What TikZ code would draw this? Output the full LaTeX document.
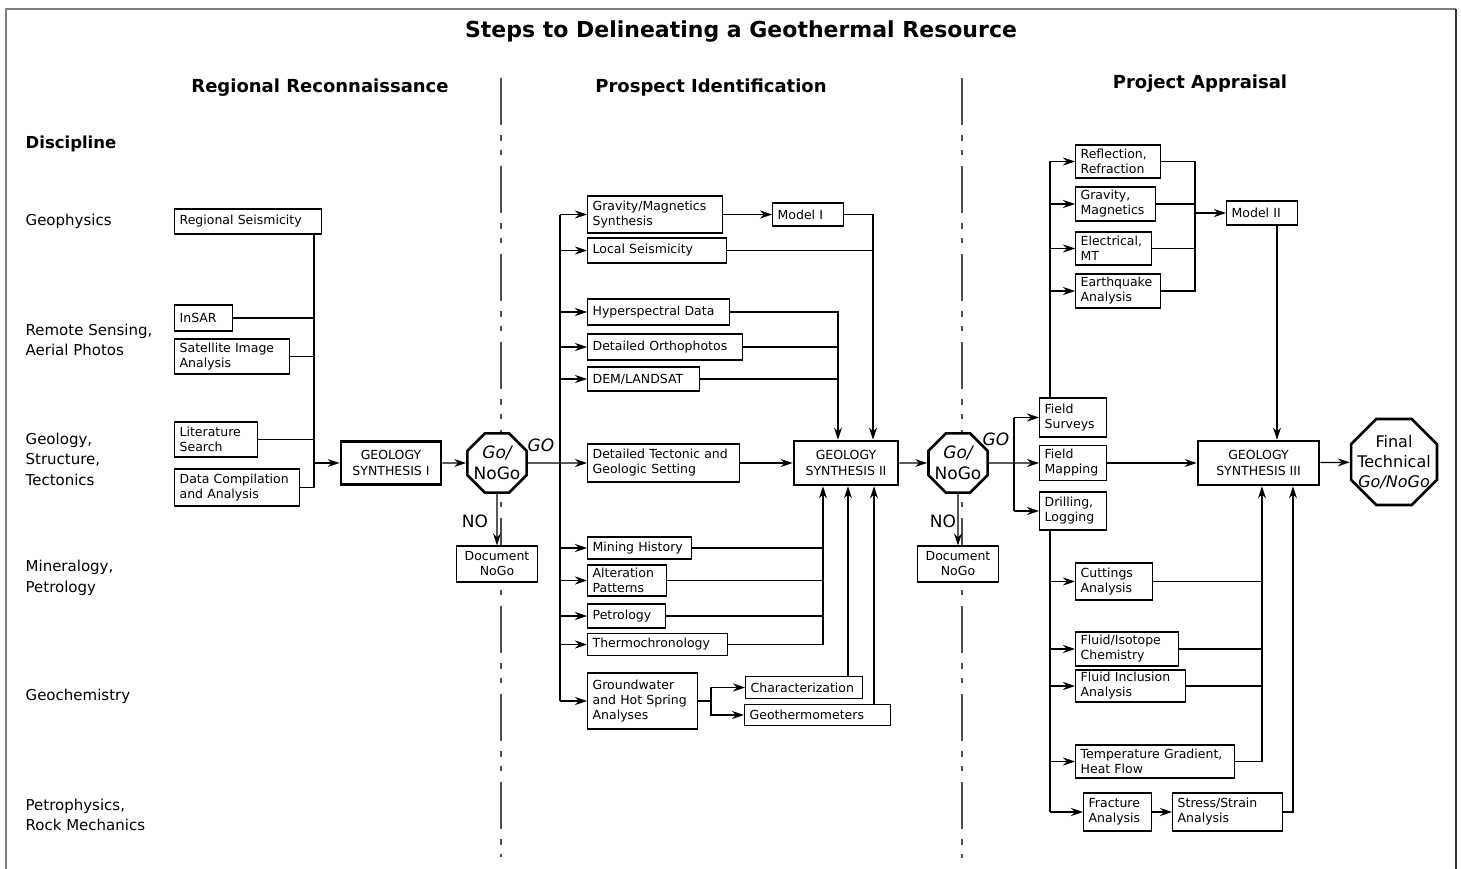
\documentclass[tikz,border=0pt]{standalone}
\usepackage{fontspec}
\setmainfont{DejaVu Sans}
\usetikzlibrary{arrows.meta, shapes.geometric}

\tikzset{
  box/.style={draw, fill=white, line width=1.3pt, inner xsep=5pt, inner ysep=2pt,
    align=left, anchor=west, font=\fontsize{12.5}{15}\selectfont},
  bx/.style 2 args={box, text width={#1-10pt}, minimum height=#2},
  synth/.style={draw, fill=white, line width=2.8pt, align=center,
    font=\fontsize{12.5}{16.5}\selectfont},
  stopsign/.style={draw, fill=white, regular polygon, regular polygon sides=8,
    inner sep=-14pt, line width=2.6pt, align=center},
  arr/.style={-{Stealth[length=12pt,width=8pt,inset=4pt]}, line width=1.3pt},
  divider/.style={black!70, line width=1.3pt,
    dash pattern=on 47pt off 10pt on 6pt off 9pt on 5pt off 11pt},
  disc/.style={anchor=west, align=left, inner sep=0pt, font=\fontsize{15}{20.5}\selectfont},
  head/.style={font=\bfseries\fontsize{18}{21}\selectfont},
  tag/.style={font=\fontsize{17}{19}\selectfont},
}

\begin{document}
\begin{tikzpicture}[x=1pt, y=-1pt, line width=1.3pt]
\useasboundingbox (0,0) rectangle (1461,869);

% frame
\draw[gray, line width=1.5pt] (6,869) -- (6,9) -- (1456,9);
\draw[black!80, line width=1.5pt] (1456,9) -- (1456,869);

% phase dividers
\draw[divider] (501,78) -- (501,857);
\draw[divider] (962,78) -- (962,858);

% titles
\node[font=\bfseries\fontsize{22}{26}\selectfont] (title) at (741,32) {Steps to Delineating a Geothermal Resource};
\node[head] (h1) at (320,88) {Regional Reconnaissance};
\node[head] (h2) at (711,88) {Prospect Identification};
\node[head] (h3) at (1200,84) {Project Appraisal};

% disciplines
\node[disc, font=\bfseries\fontsize{16.5}{20}\selectfont] (dhead) at (25,144) {Discipline};
\node[disc] (d1) at (25,221) {Geophysics};
\node[disc] (d2) at (25,340) {Remote Sensing,\\Aerial Photos};
\node[disc] (d3) at (25,459) {Geology,\\Structure,\\Tectonics};
\node[disc] (d4) at (25,578) {Mineralogy,\\Petrology};
\node[disc] (d5) at (25,696) {Geochemistry};
\node[disc] (d6) at (25,815) {Petrophysics,\\Rock Mechanics};

% Regional reconnaissance
\node[bx={147}{25}] (rs) at (174,221.5) {Regional Seismicity};
\node[bx={58}{26}] (insar) at (174,318) {InSAR};
\node[bx={115}{35}] (sat) at (174,356.5) {Satellite Image\\Analysis};
\node[bx={83}{35}] (lit) at (174,439.5) {Literature\\Search};
\node[bx={125}{37}] (dca) at (174,487.5) {Data Compilation\\and Analysis};
\node[synth, minimum width=100, minimum height=43] (gs1) at (391,463) {GEOLOGY\\SYNTHESIS I};
\node[stopsign, minimum size=64, font=\fontsize{17}{21}\selectfont] (go1) at (497,463) {\itshape Go/\\NoGo};
\node[box, anchor=center, align=center, minimum width=81, minimum height=36] (dng1) at (497,564) {Document\\NoGo};
\node[tag, font=\itshape\fontsize{17}{19}\selectfont] (golab1) at (541,445) {GO};
\node[tag] (nolab1) at (475,521) {NO};

\coordinate (bus1) at (314,463);
\draw (rs.south -| bus1) -- (bus1 |- dca);
\draw (insar) -- (insar -| bus1);
\draw (sat) -- (sat -| bus1);
\draw (lit) -- (lit -| bus1);
\draw (dca) -- (dca -| bus1);
\draw[arr] (bus1) -- (gs1);
\draw[arr] (gs1) -- (go1);
\draw[arr] (go1) -- (dng1);

% Prospect identification
\node[bx={135}{37}] (gm) at (587,214.5) {Gravity/Magnetics\\Synthesis};
\node[bx={71}{23}] (m1) at (772,214.5) {Model I};
\node[bx={139}{25}] (ls) at (587,250.5) {Local Seismicity};
\node[bx={142}{26}] (hyp) at (587,312) {Hyperspectral Data};
\node[bx={155}{26}] (orth) at (587,347) {Detailed Orthophotos};
\node[bx={112}{24}] (dem) at (587,379) {DEM/LANDSAT};
\node[bx={152}{38}] (tect) at (587,463) {Detailed Tectonic and\\Geologic Setting};
\node[bx={104}{22}] (mh) at (587,548) {Mining History};
\node[bx={79}{31}] (alt) at (587,580.5) {Alteration\\Patterns};
\node[bx={78}{24}] (pet) at (587,616) {Petrology};
\node[bx={140}{22}] (thc) at (587,644.5) {Thermochronology};
\node[bx={110}{56}] (gw) at (587,701) {Groundwater\\and Hot Spring\\Analyses};
\node[bx={117}{22}] (char) at (745,687.5) {Characterization};
\node[bx={146}{21}] (geo) at (744,715) {Geothermometers};
\node[synth, minimum width=104, minimum height=44] (gs2) at (846,463) {GEOLOGY\\SYNTHESIS II};

\coordinate (bus2) at (560,463);
\draw (bus2 |- gm) -- (bus2 |- gw);
\draw[arr] (go1) -- (tect);
\foreach \n in {gm, ls, hyp, orth, dem, mh, alt, pet, thc, gw}
  \draw[arr] (bus2 |- \n) -- (\n);
\draw[arr] (gm) -- (m1);

\coordinate (j1) at ([xshift=27pt]gs2.north);
\coordinate (j2) at ([xshift=-8pt]gs2.north);
\coordinate (j3) at ([xshift=-23pt]gs2.south);
\coordinate (j4) at ([xshift=2pt]gs2.south);
\coordinate (j5) at ([xshift=28pt]gs2.south);
\draw[arr] (m1) -| (j1);
\draw (ls) -- (ls -| j1);
\draw[arr] (hyp) -| (j2);
\draw (orth) -- (orth -| j2);
\draw (dem) -- (dem -| j2);
\draw[arr] (tect) -- (gs2);
\draw[arr] (thc) -| (j3);
\draw (mh) -- (mh -| j3);
\draw (alt) -- (alt -| j3);
\draw (pet) -- (pet -| j3);
\draw[arr] (char.north -| j4) -- (j4);
\draw[arr] (geo.north -| j5) -- (j5);
\coordinate (split) at (711,701);
\draw (gw) -- (split);
\draw[arr] (split) |- (char);
\draw[arr] (split) |- (geo);

% Project appraisal
\node[stopsign, minimum size=64, font=\fontsize{17}{21}\selectfont] (go2) at (958,463) {\itshape Go/\\NoGo};
\node[box, anchor=center, align=center, minimum width=81, minimum height=36] (dng2) at (958,564) {Document\\NoGo};
\node[tag, font=\itshape\fontsize{17}{19}\selectfont] (golab2) at (996,439) {GO};
\node[tag] (nolab2) at (943,521) {NO};
\draw[arr] (gs2) -- (go2);
\draw[arr] (go2) -- (dng2);

\node[bx={67}{39}] (fsur) at (1039,417.5) {Field\\Surveys};
\node[bx={67}{35}] (fmap) at (1039,463) {Field\\Mapping};
\node[bx={67}{38}] (drl) at (1039,511) {Drilling,\\Logging};
\node[bx={85}{33}] (refl) at (1075,161.5) {Reflection,\\Refraction};
\node[bx={80}{34}] (grav) at (1075,204) {Gravity,\\Magnetics};
\node[bx={76}{33}] (elec) at (1075,248.5) {Electrical,\\MT};
\node[bx={85}{34}] (eq) at (1075,291) {Earthquake\\Analysis};
\node[bx={71}{24}] (m2) at (1226,213) {Model II};
\node[synth, minimum width=121, minimum height=44] (gs3) at (1258.5,463) {GEOLOGY\\SYNTHESIS III};
\node[stopsign, minimum size=93, font=\fontsize{16}{20}\selectfont] (fin) at (1394,462) {Final\\Technical\\{\itshape Go/NoGo}};
\node[bx={77}{37}] (cut) at (1075,581.5) {Cuttings\\Analysis};
\node[bx={103}{34}] (fiso) at (1075,649) {Fluid/Isotope\\Chemistry};
\node[bx={110}{32}] (finc) at (1075,686) {Fluid Inclusion\\Analysis};
\node[bx={159}{33}] (temp) at (1075,761.5) {Temperature Gradient,\\Heat Flow};
\node[bx={68}{38}] (frac) at (1083,812) {Fracture\\Analysis};
\node[bx={110}{38}] (sst) at (1172,812) {Stress/Strain\\Analysis};

\coordinate (bus3) at (1014,463);
\draw[arr] (go2) -- (fmap);
\draw (bus3 |- fsur) -- (bus3 |- drl);
\draw[arr] (bus3 |- fsur) -- (fsur);
\draw[arr] (bus3 |- drl) -- (drl);

\coordinate (bus4) at ([xshift=11pt]fsur.north west);
\draw (bus4) -- (bus4 |- refl);
\foreach \n in {refl, grav, elec, eq}
  \draw[arr] (bus4 |- \n) -- (\n);
\coordinate (bus5) at (1195,213);
\draw (refl) -- (refl -| bus5) -- (eq -| bus5) -- (eq);
\draw (grav) -- (grav -| bus5);
\draw (elec) -- (elec -| bus5);
\draw[arr] (bus5) -- (m2);
\coordinate (j6) at ([xshift=18.5pt]gs3.north);
\draw[arr] (m2.south -| j6) -- (j6);
\draw[arr] (fmap) -- (gs3);
\draw[arr] (gs3) -- (fin);

\coordinate (bus6) at ([xshift=11pt]drl.south west);
\draw (bus6) -- (bus6 |- frac);
\foreach \n in {cut, fiso, finc, temp, frac}
  \draw[arr] (bus6 |- \n) -- (\n);
\draw[arr] (frac) -- (sst);
\coordinate (j7) at ([xshift=3.5pt]gs3.south);
\coordinate (j8) at ([xshift=34.5pt]gs3.south);
\draw[arr] (temp) -| (j7);
\draw (cut) -- (cut -| j7);
\draw (fiso) -- (fiso -| j7);
\draw (finc) -- (finc -| j7);
\draw[arr] (sst) -| (j8);
\end{tikzpicture}
\end{document}
